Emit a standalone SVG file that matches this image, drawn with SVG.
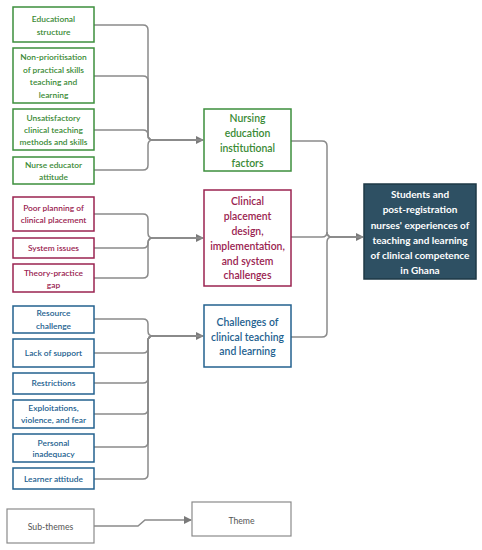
<svg xmlns="http://www.w3.org/2000/svg" width="482" height="550" viewBox="0 0 482 550">
<defs>
<style>
.bg{fill:#ffffff}
rect{fill:#ffffff;stroke-width:1.5}
.g rect{stroke:#3d8f3d}
.g text{fill:#3a8a35}
.r rect{stroke:#9a2350}
.r text{fill:#9a2350}
.b rect{stroke:#23618f}
.b text{fill:#23618f}
.k rect{stroke:#8a8a8a;stroke-width:1.2}
.k text{fill:#555555;font-size:8.7px}
text{font-family:Lato,"Liberation Sans",sans-serif;text-anchor:middle}
.s text{font-size:8.4px;font-weight:600}
.t text{font-size:10.4px;font-weight:600}
.d rect{fill:#2e5063;stroke:#1e3846}
.d text{fill:#ffffff;font-size:10px;font-weight:bold}
.c path{fill:none;stroke:#8a8a8a;stroke-width:1.5}
</style>
<marker id="ah" markerWidth="8" markerHeight="8" refX="7" refY="4" orient="auto" markerUnits="userSpaceOnUse">
<path d="M0,0 L8,4 L0,8 Z" fill="#7a7a7a"/>
</marker>
</defs>
<rect class="bg" x="0" y="0" width="482" height="550" style="stroke:none"/>

<g id="connectors" class="c">
<path d="M94,25 H143 Q148,25 148,30 V135 Q148,140 153,140 H203" marker-end="url(#ah)"/>
<path d="M94,76 H143 Q148,76 148,81 V135 Q148,140 153,140 H203"/>
<path d="M94,130 H143 Q148,130 148,135 Q148,140 153,140 H203"/>
<path d="M94,170 H143 Q148,170 148,165 V145 Q148,140 153,140 H203"/>
<path d="M94,214 H143 Q148,214 148,219 V233 Q148,238 153,238 H203" marker-end="url(#ah)"/>
<path d="M94,248 H143 Q148,248 148,243 Q148,238 153,238 H203"/>
<path d="M94,278 H143 Q148,278 148,273 V243 Q148,238 153,238 H203"/>
<path d="M94,319 H143 Q148,319 148,324 V331 Q148,336 153,336 H203" marker-end="url(#ah)"/>
<path d="M94,353 H143 Q148,353 148,348 V341 Q148,336 153,336 H203"/>
<path d="M94,383 H143 Q148,383 148,378 V341 Q148,336 153,336 H203"/>
<path d="M94,414 H143 Q148,414 148,409 V341 Q148,336 153,336 H203"/>
<path d="M94,447 H143 Q148,447 148,442 V341 Q148,336 153,336 H203"/>
<path d="M94,479 H143 Q148,479 148,474 V341 Q148,336 153,336 H203"/>
<path d="M291,141 H322 Q327,141 327,146 V232 Q327,237 332,237 H363" marker-end="url(#ah)"/>
<path d="M291,237 H322 Q327,237 327,232 Q327,237 332,237 H363"/>
<path d="M291,337 H322 Q327,337 327,332 V242 Q327,237 332,237 H363"/>
<path d="M94,526 H138 L145,520 H191" marker-end="url(#ah)"/>
</g>

<g id="n-edu-structure" class="g s"><rect x="13" y="7" width="81" height="35"/><text x="53.5" y="22">Educational</text><text x="53.5" y="35">structure</text></g>
<g id="n-non-prior" class="g s"><rect x="13" y="48" width="81" height="55"/><text x="53.5" y="60">Non-prioritisation</text><text x="53.5" y="73">of practical skills</text><text x="53.5" y="85">teaching and</text><text x="53.5" y="98">learning</text></g>
<g id="n-unsat" class="g s"><rect x="13" y="109" width="81" height="41"/><text x="53.5" y="121">Unsatisfactory</text><text x="53.5" y="133">clinical teaching</text><text x="53.5" y="145">methods and skills</text></g>
<g id="n-educator" class="g s"><rect x="13" y="157" width="81" height="27"/><text x="53.5" y="168">Nurse educator</text><text x="53.5" y="180">attitude</text></g>

<g id="n-poor-planning" class="r s"><rect x="13" y="197" width="81" height="34"/><text x="53.5" y="211">Poor planning of</text><text x="53.5" y="223">clinical placement</text></g>
<g id="n-system" class="r s"><rect x="13" y="238" width="81" height="20"/><text x="53.5" y="251">System issues</text></g>
<g id="n-theory" class="r s"><rect x="13" y="264" width="81" height="28"/><text x="53.5" y="276">Theory-practice</text><text x="53.5" y="288">gap</text></g>

<g id="n-resource" class="b s"><rect x="13" y="306" width="81" height="27"/><text x="53.5" y="316">Resource</text><text x="53.5" y="329">challenge</text></g>
<g id="n-support" class="b s"><rect x="13" y="339" width="81" height="28"/><text x="53.5" y="356">Lack of support</text></g>
<g id="n-restrictions" class="b s"><rect x="13" y="373" width="81" height="21"/><text x="53.5" y="386">Restrictions</text></g>
<g id="n-exploit" class="b s"><rect x="13" y="400" width="81" height="28"/><text x="53.5" y="411">Exploitations,</text><text x="53.5" y="423">violence, and fear</text></g>
<g id="n-personal" class="b s"><rect x="13" y="434" width="81" height="28"/><text x="53.5" y="446">Personal</text><text x="53.5" y="457">inadequacy</text></g>
<g id="n-learner" class="b s"><rect x="13" y="468" width="81" height="21"/><text x="53.5" y="482">Learner attitude</text></g>

<g id="t-nursing" class="g t"><rect x="204" y="109" width="87" height="62"/><text x="247.5" y="122">Nursing</text><text x="247.5" y="137">education</text><text x="247.5" y="152">institutional</text><text x="247.5" y="167">factors</text></g>
<g id="t-clinical" class="r t"><rect x="204" y="190" width="87" height="96"/><text x="247.5" y="205">Clinical</text><text x="247.5" y="220">placement</text><text x="247.5" y="235">design,</text><text x="247.5" y="250">implementation,</text><text x="247.5" y="265">and system</text><text x="247.5" y="279">challenges</text></g>
<g id="t-challenges" class="b t"><rect x="204" y="305" width="87" height="62"/><text x="247.5" y="326">Challenges of</text><text x="247.5" y="341">clinical teaching</text><text x="247.5" y="355">and learning</text></g>

<g id="t-main" class="d"><rect x="364" y="184" width="112" height="95"/><text x="420" y="198">Students and</text><text x="420" y="213">post-registration</text><text x="420" y="228.5">nurses' experiences of</text><text x="420" y="243.5">teaching and learning</text><text x="420" y="258.5">of clinical competence</text><text x="420" y="273.5">in Ghana</text></g>

<g id="legend-sub" class="k"><rect x="7" y="509" width="87" height="34"/><text x="50.5" y="530">Sub-themes</text></g>
<g id="legend-theme" class="k"><rect x="192" y="502" width="99" height="34"/><text x="241.5" y="524">Theme</text></g>
</svg>
